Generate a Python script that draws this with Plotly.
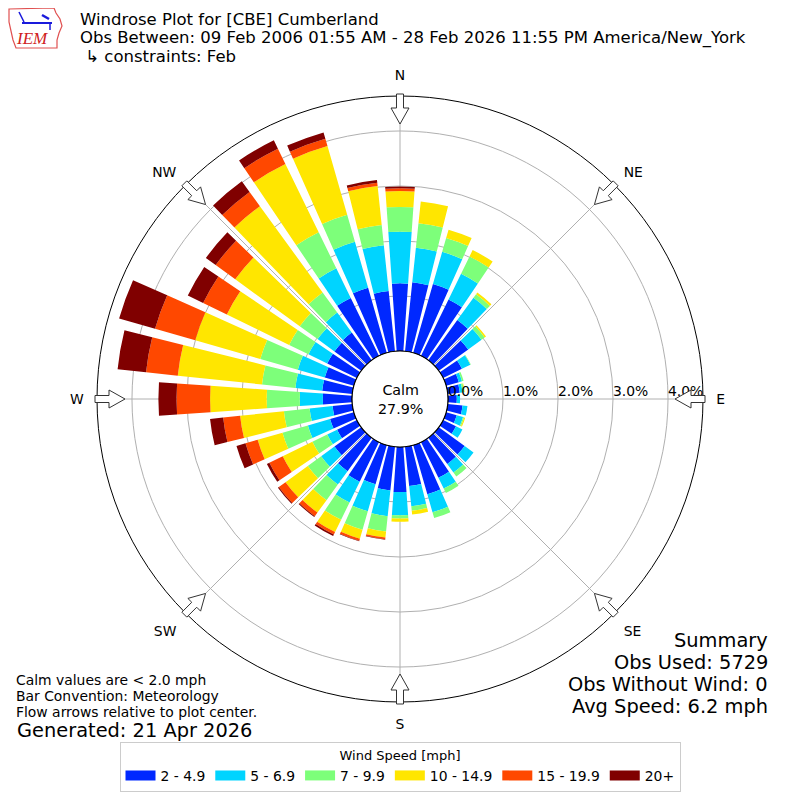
import math
import plotly.graph_objects as go

# ---------------- data ----------------
directions = list(range(0, 360, 10))
speed_bins = ["2 - 4.9", "5 - 6.9", "7 - 9.9", "10 - 14.9", "15 - 19.9", "20+"]
bin_colors = ["#0028ff", "#00d4ff", "#7dff7a", "#ffe600", "#ff4800", "#800000"]

s_2_5 = [1.23, 1.26, 1.30, 1.14, 0.90, 0.66, 0.38, 0.24, 0.22, 0.16, 0.27, 0.20,
         0.26, 0.58, 0.59, 0.72, 0.93, 0.72, 0.82, 0.80, 0.74, 0.80, 0.75, 0.60,
         0.40, 0.45, 0.36, 0.53, 0.55, 0.55, 0.60, 0.60, 0.62, 1.17, 1.23, 1.10]
s_5_7 = [0.94, 0.63, 0.61, 0.52, 0.50, 0.30, 0.17, 0.06, 0.05, 0.06, 0.09, 0.12,
         0.13, 0.20, 0.19, 0.22, 0.34, 0.37, 0.42, 0.47, 0.51, 0.42, 0.30, 0.30,
         0.20, 0.42, 0.42, 0.42, 0.49, 0.51, 0.38, 0.38, 0.45, 0.60, 0.87, 0.84]
s_7_10 = [0.45, 0.45, 0.26, 0.35, 0.08, 0.07, 0.01, 0.03, 0.03, 0.00, 0.00, 0.02,
          0.00, 0.00, 0.09, 0.09, 0.11, 0.08, 0.06, 0.28, 0.35, 0.35, 0.35, 0.30,
          0.30, 0.48, 0.47, 0.60, 0.61, 0.71, 0.39, 0.40, 0.45, 0.73, 0.51, 0.37]
s_10_15 = [0.29, 0.40, 0.16, 0.13, 0.04, 0.03, 0.00, 0.00, 0.01, 0.00, 0.00, 0.02,
           0.00, 0.00, 0.00, 0.00, 0.00, 0.07, 0.06, 0.11, 0.17, 0.25, 0.28, 0.50,
           0.60, 0.47, 0.80, 1.03, 1.54, 1.23, 1.26, 1.45, 1.94, 1.38, 1.30, 0.71]
s_15_20 = [0.05, 0.00, 0.00, 0.00, 0.00, 0.00, 0.00, 0.00, 0.00, 0.00, 0.00, 0.00,
           0.00, 0.00, 0.00, 0.00, 0.00, 0.00, 0.00, 0.03, 0.04, 0.05, 0.08, 0.15,
           0.27, 0.23, 0.31, 0.61, 0.58, 0.76, 0.48, 0.44, 0.32, 0.31, 0.14, 0.06]
s_20p = [0.03, 0.00, 0.00, 0.00, 0.00, 0.00, 0.00, 0.00, 0.00, 0.00, 0.00, 0.00,
         0.00, 0.00, 0.00, 0.00, 0.00, 0.00, 0.00, 0.01, 0.01, 0.03, 0.02, 0.02,
         0.05, 0.17, 0.24, 0.33, 0.52, 0.68, 0.31, 0.22, 0.24, 0.17, 0.12, 0.05]
series = [s_2_5, s_5_7, s_7_10, s_10_15, s_15_20, s_20p]

radial_ticks = [0, 1, 2, 3, 4]
radial_ticktext = ["0.0%", "1.0%", "2.0%", "3.0%", "4.0%"]
compass_vals = [0, 45, 90, 135, 180, 225, 270, 315]
compass_text = ["N", "NE", "E", "SE", "S", "SW", "W", "NW"]
calm_pct = "27.9%"

title_lines = [
    "Windrose Plot for [CBE] Cumberland",
    "Obs Between: 09 Feb 2006 01:55 AM - 28 Feb 2026 11:55 PM America/New_York",
    " \u21b3 constraints: Feb",
]
left_notes = ["Calm values are < 2.0 mph", "Bar Convention: Meteorology",
              "Flow arrows relative to plot center."]
generated = "Generated: 21 Apr 2026"
summary_lines = ["Summary", "Obs Used: 5729", "Obs Without Wind: 0", "Avg Speed: 6.2 mph"]

# ---------------- layout geometry ----------------
W = H = 800
OFF = 8            # page body margin of the html page
CX, CY = 400, 399
R_OUT, R_HOLE = 303, 48
RMAX = 4.636
FONT = "DejaVu Sans"
FS_SMALL, FS_TITLE, FS_BIG = 13.9, 16.5, 19.4


def px(x):
    return (x - OFF) / W


def py(y):
    return 1 - (y - OFF) / H


fig = go.Figure()
for name, vals, col in zip(speed_bins, series, bin_colors):
    fig.add_trace(go.Barpolar(
        r=vals, theta=directions, width=8, name=name, legendgroup=name,
        showlegend=False,
        marker=dict(color=col, line=dict(width=0)),
        hoverinfo="r+theta+name",
    ))
# legend entries (wide colour swatches)
for name, col in zip(speed_bins, bin_colors):
    fig.add_trace(go.Scatterpolar(
        r=[None], theta=[None], mode="lines", name=name, legendgroup=name,
        line=dict(color=col, width=10), hoverinfo="skip", showlegend=True,
    ))
# radial tick labels, placed on the rings along the east axis
fig.add_trace(go.Scatterpolar(
    r=radial_ticks, theta=[90] * len(radial_ticks), mode="text",
    text=radial_ticktext, textposition="top right",
    textfont=dict(size=FS_SMALL, family=FONT, color="black"),
    showlegend=False, hoverinfo="skip", cliponaxis=False,
))

fig.update_layout(
    width=W, height=H,
    margin=dict(l=0, r=0, t=0, b=0),
    paper_bgcolor="white", plot_bgcolor="white",
    font=dict(family=FONT, color="black", size=FS_SMALL),
    polar=dict(
        domain=dict(x=[px(CX - R_OUT), px(CX + R_OUT)],
                    y=[py(CY + R_OUT), py(CY - R_OUT)]),
        hole=R_HOLE / R_OUT,
        barmode="stack",
        bgcolor="white",
        radialaxis=dict(
            range=[0, RMAX], tickvals=radial_ticks, showticklabels=False,
            angle=0, showline=False, ticks="",
            gridcolor="#b0b0b0", gridwidth=0.8,
            layer="above traces",
        ),
        angularaxis=dict(
            rotation=90, direction="clockwise",
            tickmode="array", tickvals=compass_vals, ticktext=compass_text,
            ticks="outside", ticklen=10, tickcolor="rgba(0,0,0,0)",
            showline=True, linecolor="black", linewidth=1,
            gridcolor="#b0b0b0", gridwidth=0.8,
            tickfont=dict(size=FS_SMALL, color="black", family=FONT),
            layer="above traces",
        ),
    ),
    legend=dict(
        orientation="h", x=px(400), xanchor="center", y=py(742), yanchor="top",
        title=dict(text="Wind Speed [mph]", side="top center",
                   font=dict(size=13, family=FONT)),
        font=dict(size=FS_SMALL, family=FONT),
        bordercolor="#cccccc", borderwidth=1, bgcolor="white",
        traceorder="normal", itemwidth=30,
    ),
    showlegend=True,
)

shapes = []
# hole border
shapes.append(dict(type="circle", xref="paper", yref="paper",
                   x0=px(CX - R_HOLE), x1=px(CX + R_HOLE),
                   y0=py(CY + R_HOLE), y1=py(CY - R_HOLE),
                   line=dict(color="black", width=1.2), fillcolor="white", layer="above"))

# hollow flow arrows at the eight compass points
arrow_local = [(305, -3.5), (291, -3.5), (291, -9), (275, 0), (291, 9), (291, 3.5), (305, 3.5)]
for ang in compass_vals:
    a = math.radians(ang)
    ux, uy = math.sin(a), -math.cos(a)
    vx, vy = math.cos(a), math.sin(a)
    pts = []
    for u, v in arrow_local:
        x = CX + u * ux + v * vx
        y = CY + u * uy + v * vy
        pts.append(f"{px(x):.5f},{py(y):.5f}")
    path = "M " + " L ".join(pts) + " Z"
    shapes.append(dict(type="path", xref="paper", yref="paper", path=path,
                       line=dict(color="#333333", width=1), fillcolor="white", layer="above"))

# IEM logo (approximate)
logo_pts = [(9, 9), (54, 8), (56, 13), (60, 19), (62, 26), (59, 33), (57, 40), (57, 48),
            (16, 48), (13, 40), (11, 31), (9, 22)]
shapes.append(dict(type="path", xref="paper", yref="paper",
                   path="M " + " L ".join(f"{px(x):.5f},{py(y):.5f}" for x, y in logo_pts) + " Z",
                   line=dict(color="#e05050", width=1.2), fillcolor="white"))
shapes.append(dict(type="line", xref="paper", yref="paper", x0=px(22), x1=px(52),
                   y0=py(23), y1=py(23), line=dict(color="#1a1adc", width=2)))
shapes.append(dict(type="line", xref="paper", yref="paper", x0=px(19), x1=px(24),
                   y0=py(12), y1=py(22), line=dict(color="#1a1adc", width=1.5)))
shapes.append(dict(type="line", xref="paper", yref="paper", x0=px(42), x1=px(49),
                   y0=py(15), y1=py(19), line=dict(color="#1a1adc", width=2.5)))
shapes.append(dict(type="line", xref="paper", yref="paper", x0=px(50), x1=px(50),
                   y0=py(23), y1=py(30), line=dict(color="#1a1adc", width=1.5)))

annotations = []
annotations.append(dict(x=px(CX), y=py(CY), xref="paper", yref="paper", showarrow=False,
                        text="Calm<br>" + calm_pct, font=dict(size=14.3, family=FONT),
                        xanchor="center", yanchor="middle", align="center"))
annotations.append(dict(x=px(14), y=py(39), xref="paper", yref="paper", showarrow=False,
                        text="<i>IEM</i>", font=dict(size=17, family="Liberation Serif", color="#d02020"),
                        xanchor="left", yanchor="middle"))
for i, t in enumerate(title_lines):
    annotations.append(dict(x=px(79), y=py(19.5 + 18.5 * i), xref="paper", yref="paper",
                            showarrow=False, text=t, xanchor="left", yanchor="middle",
                            borderpad=0,
                            font=dict(size=FS_TITLE, family=FONT)))
for i, t in enumerate(left_notes):
    annotations.append(dict(x=px(15), y=py(680 + 16 * i), xref="paper", yref="paper",
                            showarrow=False, text=t, xanchor="left", yanchor="middle",
                            borderpad=0,
                            font=dict(size=FS_SMALL, family=FONT)))
annotations.append(dict(x=px(15), y=py(730), xref="paper", yref="paper", showarrow=False,
                        text=generated, xanchor="left", yanchor="middle",
                        font=dict(size=FS_BIG, family=FONT)))
for i, t in enumerate(summary_lines):
    annotations.append(dict(x=px(769), y=py(640 + 22 * i), xref="paper", yref="paper",
                            showarrow=False, text=t, xanchor="right", yanchor="middle",
                            borderpad=0,
                            font=dict(size=FS_BIG, family=FONT)))

fig.update_layout(shapes=shapes, annotations=annotations)
fig.write_html("out.html")
